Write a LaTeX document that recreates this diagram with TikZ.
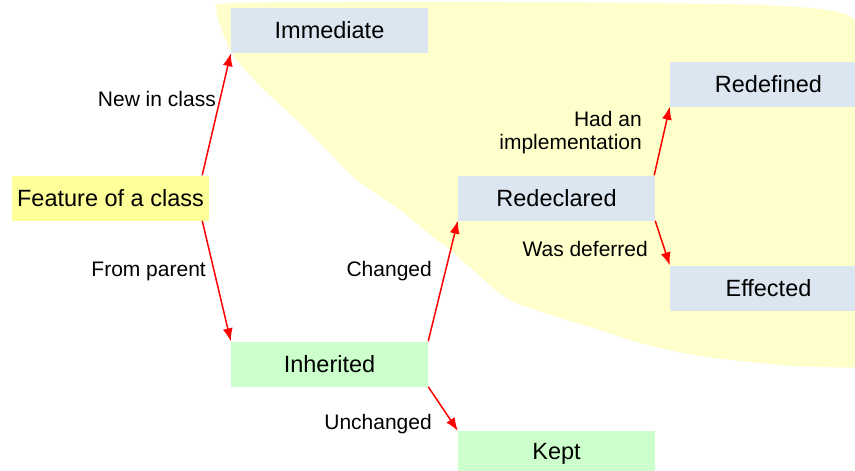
\documentclass[tikz,border=0pt]{standalone}
\usepackage{fontspec}
\setmainfont{Liberation Sans}
\usetikzlibrary{arrows.meta}
\definecolor{blobyellow}{HTML}{FFFFCC}
\definecolor{boxblue}{HTML}{DCE6F0}
\definecolor{boxgreen}{HTML}{CCFFCC}
\definecolor{boxyellow}{HTML}{FFFF99}
\begin{document}
\begin{tikzpicture}[x=1pt,y=-1pt,>={Latex[length=13pt,width=10pt]},
	box/.style={minimum width=197pt,minimum height=45pt,inner sep=0pt,font=\fontsize{23.5}{28}\selectfont},
	lbl/.style={anchor=east,inner sep=0pt,align=right,font=\fontsize{21}{23}\selectfont},
	link/.style={->,red,line width=1.5pt}]
	\useasboundingbox (0,0) rectangle (855,471);
	\clip (0,0) rectangle (855,471);
	% region of the changed features
	\fill[blobyellow] plot[smooth,tension=0.5] coordinates {(872,368) (820,367) (780,365) (700,356) (640,343) (600,330) (567,320) (510,300) (473,270) (448,248) (433,237) (400,210) (357,180) (327,150) (300,123) (257,83) (232,53) (222,30) (217,10) (240,3) (500,2) (760,5) (845,14) (872,40)} -- cycle;
	\node[box,fill=boxyellow] (feature) at (110.5,198) {Feature of a class};
	\node[box,fill=boxblue] (immediate) at (329.5,30.5) {Immediate};
	\node[box,fill=boxgreen] (inherited) at (329.5,364) {Inherited};
	\node[box,fill=boxblue] (redeclared) at (556.5,198) {Redeclared};
	\node[box,fill=boxgreen] (kept) at (556.5,453.5) {Kept};
	\node[box,fill=boxblue] (redefined) at (768.5,84) {Redefined};
	\node[box,fill=boxblue] (effected) at (768.5,288) {Effected};
	\draw[link] ([xshift=-7pt]feature.north east)--(immediate.south west);
	\draw[link] ([xshift=-7pt]feature.south east)--(inherited.north west);
	\draw[link] (inherited.north east)--(redeclared.south west);
	\draw[link] (inherited.south east)--(kept.north west);
	\draw[link] ([xshift=-1pt]redeclared.north east)--(redefined.south west);
	\draw[link] (redeclared.south east)--(effected.north west);
	\node[lbl] (newlbl) at (216,99) {New in class};
	\node[lbl] (parentlbl) at (206,271) {From parent};
	\node[lbl] (changedlbl) at (432,271) {Changed};
	\node[lbl] (unchangedlbl) at (432,424) {Unchanged};
	\node[lbl] (hadlbl) at (642,133) {Had an\\implementation};
	\node[lbl] (deferredlbl) at (648,249) {Was deferred};
\end{tikzpicture}
\end{document}
